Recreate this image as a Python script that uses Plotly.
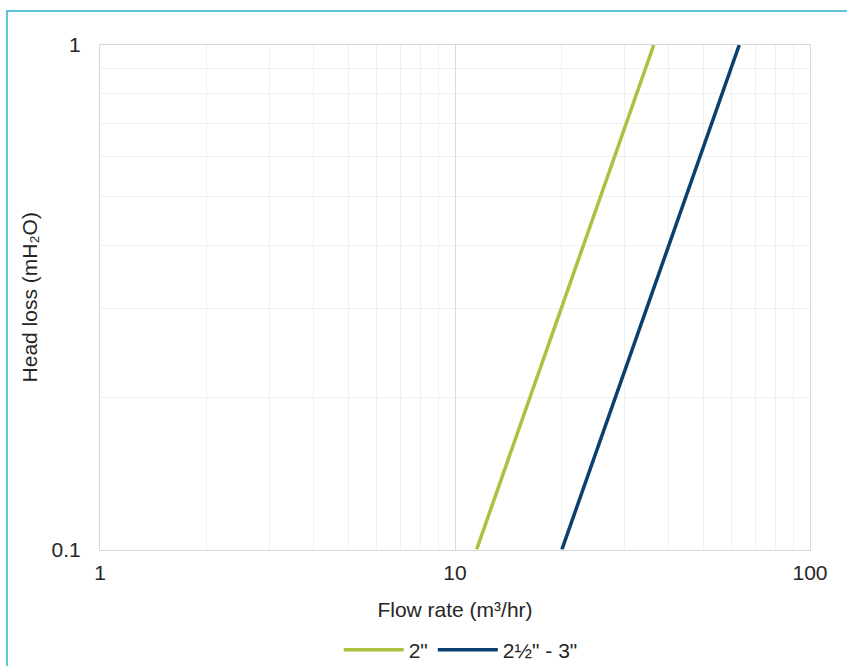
import plotly.graph_objects as go

# Data (flow m3/hr vs head loss mH2O)
flow_2in = [11.5, 36.3]
head_2in = [0.1, 1.0]
flow_25_3in = [20.0, 63.2]
head_25_3in = [0.1, 1.0]
series_names = ['2"', '2½" - 3"']
colors = ["#a9c23f", "#0b3f6e"]

fig = go.Figure()
fig.add_trace(go.Scatter(x=flow_2in, y=head_2in, mode="lines", name=series_names[0],
                         line=dict(color=colors[0], width=3.5)))
fig.add_trace(go.Scatter(x=flow_25_3in, y=head_25_3in, mode="lines", name=series_names[1],
                         line=dict(color=colors[1], width=3.5)))

FONT = "Liberation Sans, Arial, Helvetica, sans-serif"
TXT = "#262626"
tick_font = dict(family=FONT, size=21, color=TXT)
title_font = dict(family=FONT, size=21, color=TXT)

fig.update_layout(
    width=847, height=666,
    margin=dict(l=100, r=37, t=45, b=115),
    paper_bgcolor="white", plot_bgcolor="white",
    showlegend=True,
    legend=dict(orientation="h", x=0.508, xanchor="center",
                yref="container", y=1 - 650 / 666, yanchor="middle",
                font=dict(family=FONT, size=21, color=TXT),
                traceorder="normal", itemwidth=60),
    xaxis=dict(type="log", range=[0, 2], tickvals=[1, 10, 100], ticktext=["1", "10", "100"],
               showgrid=True, gridcolor="#d9d9d9", gridwidth=1,
               minor=dict(showgrid=True, gridcolor="#f0f0f0", gridwidth=1, dtick="D1"),
               showline=True, linecolor="#d9d9d9", linewidth=1, mirror=True,
               ticks="outside", ticklen=4, tickcolor="rgba(0,0,0,0)",
               tickfont=tick_font, zeroline=False,
               title=dict(text="Flow rate (m³/hr)", font=title_font, standoff=19)),
    yaxis=dict(type="log", range=[-1, 0], tickvals=[0.1, 1], ticktext=["0.1", "1"],
               showgrid=True, gridcolor="#d9d9d9", gridwidth=1,
               minor=dict(showgrid=True, gridcolor="#f0f0f0", gridwidth=1, dtick="D1"),
               showline=True, linecolor="#d9d9d9", linewidth=1, mirror=True,
               ticks="outside", ticklen=14, tickcolor="rgba(0,0,0,0)", tickfont=tick_font,
               zeroline=False,
               title=dict(text="Head loss (mH₂O)", font=title_font, standoff=8)),
    shapes=[dict(type="rect", xref="paper", yref="paper",
                 x0=(7 - 100) / 710, x1=1.5, y0=-0.6, y1=1 + (45 - 11) / 506,
                 line=dict(color="#2bb3d4", width=1.5), layer="below")],
)

fig.write_html("out.html", config={"displayModeBar": False},
               post_script="document.body.style.margin='0';")
